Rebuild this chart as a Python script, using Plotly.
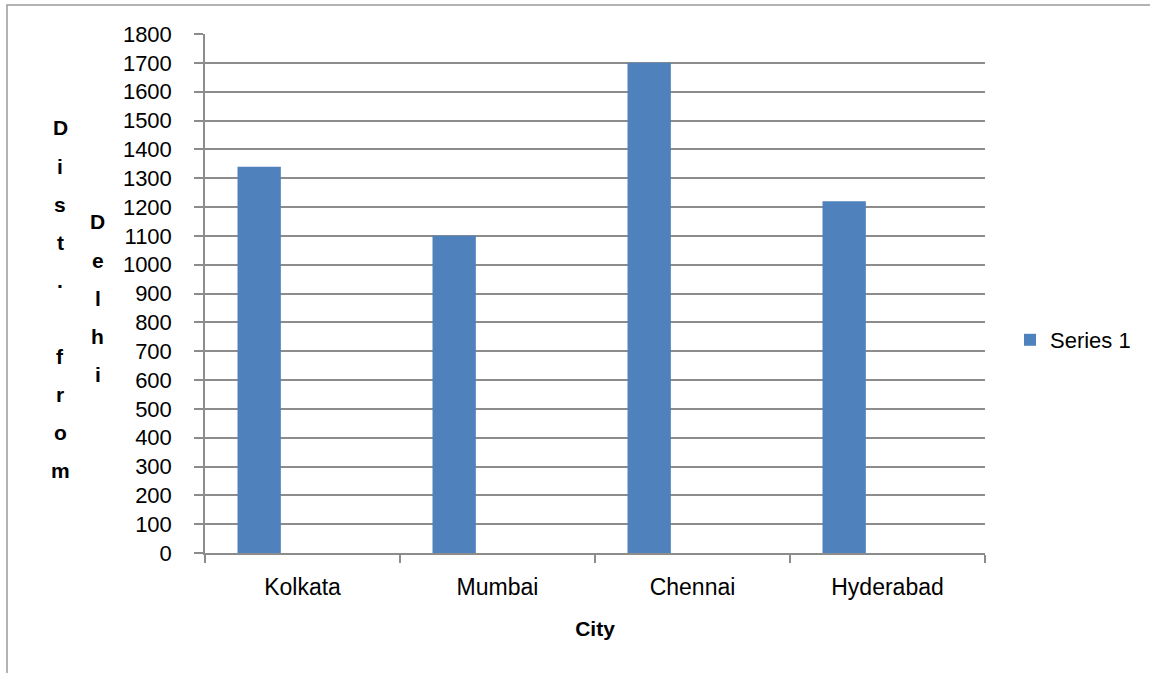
import plotly.graph_objects as go

categories = ["Kolkata", "Mumbai", "Chennai", "Hyderabad"]
series_1 = [1340, 1100, 1700, 1220]
series_name = "Series 1"
y_title_col1 = list("Dist. from")
y_title_col2 = list("Delhi")
x_title = "City"

W, H = 1150, 673
L, R, T, B = 205, 165, 34, 120
PW, PH = W - L - R, H - T - B

def px_x(p):
    return (p - L) / PW

def px_y(p):
    return (H - B - p) / PH

FONT = "Liberation Sans, Arial, sans-serif"
GRID = "#8c8c8c"

fig = go.Figure()
fig.add_trace(go.Bar(
    x=categories, y=series_1, name=series_name,
    marker=dict(color="#4F81BD", line=dict(width=0)),
    width=0.2222, offset=-0.3333,
    showlegend=True,
))

annotations = []
for i, ch in enumerate(y_title_col1):
    if ch.strip() == "":
        continue
    annotations.append(dict(text=ch, xref="paper", yref="paper",
                            x=px_x(60), y=px_y(128 + 38 * i), showarrow=False,
                            xanchor="center", yanchor="middle",
                            font=dict(family=FONT, size=21, color="black", weight="bold")))
for i, ch in enumerate(y_title_col2):
    annotations.append(dict(text=ch, xref="paper", yref="paper",
                            x=px_x(98), y=px_y(222 + 38 * i), showarrow=False,
                            xanchor="center", yanchor="middle",
                            font=dict(family=FONT, size=21, color="black", weight="bold")))

fig.update_layout(
    width=W, height=H,
    margin=dict(l=L, r=R, t=T, b=B, autoexpand=False),
    paper_bgcolor="white", plot_bgcolor="white",
    font=dict(family=FONT, size=22, color="black"),
    showlegend=True,
    legend=dict(x=px_x(1010), y=px_y(340), xanchor="left", yanchor="middle",
                font=dict(family=FONT, size=22, color="black"),
                bgcolor="rgba(0,0,0,0)", borderwidth=0),
    xaxis=dict(type="category", range=[-0.5, 3.5], showline=True, linecolor=GRID,
               linewidth=1.5, ticks="outside", tickson="boundaries", ticklen=8,
               tickcolor=GRID, tickwidth=1.5, showgrid=False, zeroline=False,
               tickfont=dict(family=FONT, size=23, color="black"),
               ticklabelstandoff=13,
               title=dict(text=x_title, standoff=22,
                          font=dict(family=FONT, size=21, color="black", weight="bold"))),
    yaxis=dict(range=[0, 1800], dtick=100, tick0=0, showline=True, linecolor=GRID,
               linewidth=1.5, ticks="outside", ticklen=9, tickcolor=GRID, tickwidth=1.5,
               showgrid=True, gridcolor=GRID, gridwidth=1.5, zeroline=False,
               tickfont=dict(family=FONT, size=22, color="black"),
               ticklabelstandoff=18),
    annotations=annotations,
    shapes=[dict(type="rect", xref="paper", yref="paper",
                 x0=px_x(7), x1=px_x(1160), y0=px_y(690), y1=px_y(5),
                 line=dict(color="#9a9a9a", width=1.5), fillcolor="rgba(0,0,0,0)",
                 layer="below")],
)

fig.write_html("out.html", config={"displayModeBar": False},
               post_script="document.body.style.margin='0px';document.body.style.overflow='hidden';")
